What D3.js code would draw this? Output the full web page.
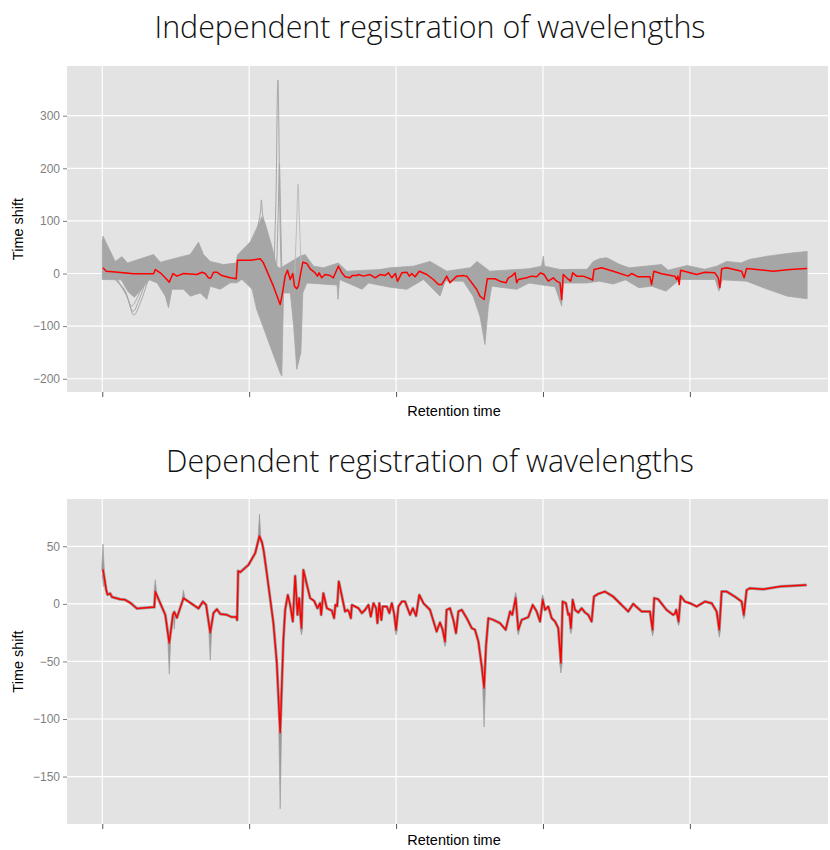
<!DOCTYPE html>
<html lang="en">
<head>
<meta charset="UTF-8">
<title>Registration of wavelengths</title>
<script src="https://cdn.jsdelivr.net/npm/d3@7"></script>
<style>
body{margin:0;background:#fff}
svg{display:block}
</style>
</head>
<body>
<script>
// x in retention-time units, ticks unlabeled in the original
const xTicks = [0, 100, 200, 300, 400];
const indepYTicks = [-200, -100, 0, 100, 200, 300];
const depYTicks = [-150, -100, -50, 0, 50];

// independent registration: mean (red) and envelope of the gray curves
const indepRed = [[0.5,10.8],[2.7,4.4],[8.8,3],[14.5,1.3],[21.3,-0.6],[34.9,-0.6],[36.1,7.6],[39.5,1.3],[42.9,-8.2],[45.6,-16.5],[48.1,0],[50.8,-5],[55.3,0],[64.4,-1.9],[67.8,2.5],[70.1,0],[72.3,-8.2],[73.8,-9],[75.7,2.5],[78.0,2.5],[81.4,-3.8],[87.1,-8.2],[91.2,-10],[92.0,25.3],[100.7,25.3],[107.5,27.9],[109.7,20.3],[116.5,-24],[121.1,-59],[122.7,-36.7],[124.5,-5],[126.1,6.3],[127.9,-11.4],[129.7,0],[130.8,-24],[132.4,-29],[133.5,-24],[134.7,-5],[136.5,21.5],[139.3,19],[141.5,8.9],[144.9,1.3],[146.5,-5],[147.6,1.3],[149.4,-8.2],[151.7,-1.9],[155.1,-3.8],[157.3,-8.2],[160.7,13.9],[163.1,1.3],[165.3,-6.3],[168.7,-8.2],[170.1,-4],[173.3,-3.8],[174.4,-1.9],[177.8,-5],[182.3,-1.9],[185.7,-8.2],[189.1,-1.9],[192.5,-3.8],[194.8,1.3],[197.1,-8.2],[199.5,0],[201.0,-15],[203.9,1.3],[207.3,2.5],[209.0,-5],[210.7,0],[212.9,-6.3],[215.8,4.4],[220.9,-1.9],[225.4,-11.4],[228.8,-21],[231.1,-21],[234.5,-5],[236.7,-17.7],[241.3,-5],[245.7,-4],[248.1,-5],[254.9,-30.4],[257.1,-43],[259.9,-49.4],[262.1,-10],[267.3,-10],[270.7,-14.6],[274.8,-17.7],[276.4,-8.2],[278.7,-5],[281.0,1.3],[282.1,-17.7],[283.2,-11.4],[288.9,-8.2],[292.3,-5],[295.7,-6.3],[298.4,1.3],[300.7,-1.9],[303.6,-14.6],[307.0,-8.2],[309.3,-14.6],[311.6,-17.7],[312.7,-49.4],[313.8,-1.9],[316.1,-8.2],[318.8,-14.6],[320.2,1.3],[322.9,-5],[327.4,-5],[332.0,-10],[333.8,-12.7],[334.7,7.6],[339.9,10.8],[347.8,4.4],[358.0,-5],[360.3,0],[364.8,-6.3],[372.8,-6.3],[373.9,-21],[375.5,4.4],[380.7,-0.6],[389.8,-5],[390.9,-11.4],[391.8,-5],[392.7,-21],[393.7,6.3],[398.8,2.5],[404.6,-1.9],[410.2,2.5],[417.0,1.3],[419.3,-8.2],[420.4,-27],[421.6,8.9],[425.0,10.8],[435.2,4.4],[436.9,-8.2],[438.6,9.5],[445.4,7.6],[456.7,4.4],[468.0,7.6],[479.8,9.5]];

const indepUpper = [[0,60],[0.5,71],[2.7,58],[8.8,23],[13.4,32],[17.2,20],[34.9,36],[39.5,21.5],[55.3,33],[59.9,36],[65.5,59.5],[68.9,36],[73.5,23],[82.5,17],[91.2,20],[92.0,35],[100.7,60],[105.0,85],[107.5,100],[108.6,108],[110.9,95],[115.4,52],[118.8,14],[121.1,10],[134.7,33],[138.1,36],[143.8,14],[150.6,11],[160.7,20],[166.5,4.4],[189.1,7.6],[195.9,10.8],[211.8,14],[223.1,23],[234.5,4.4],[250.5,11],[255.1,23],[263.8,4.4],[290.5,9],[299.1,14],[300.2,33],[301.0,14],[311.6,7.6],[330.0,8],[334.2,23],[338.3,28],[343.3,30],[352.4,17],[358.7,10.8],[380.7,17],[385.2,6.3],[398.1,15.2],[410.0,8],[418.2,14],[425.0,23],[434.7,20],[440.4,26.6],[452.9,33],[466.4,38],[479.8,42]];

const indepLower = [[0,-11],[0.5,-11.4],[12.9,-12],[17.7,-35],[21.8,-45],[25.2,-35],[32.0,-12],[37.4,-18],[42.9,-43],[45.1,-65],[47.4,-30],[55.3,-30],[59.9,-43],[66.7,-37],[71.2,-49],[73.5,-24],[80.3,-30],[87.1,-17.7],[91.6,-17.7],[95.0,-11],[102.0,-30],[105.1,-68],[114.3,-138],[121.1,-189],[122.2,-195],[123.4,-37],[128.0,-37],[130.3,-100],[132.4,-182],[135.2,-150],[136.5,-37],[139.3,-18],[159.8,-22],[160.5,-49],[161.5,-11.4],[176.9,-30],[181.2,-18],[195.9,-26],[207.3,-30],[218.6,-11.4],[229.9,-43],[233.5,-14],[245.7,-14.6],[252.4,-43],[257.1,-81],[260.5,-135],[262.8,-62],[265.1,-24],[282.1,-30],[290.5,-18],[300.0,-22],[308.2,-25],[312.7,-62],[314.0,-18],[329.5,-18],[338.4,-14.6],[347.8,-20],[356.2,-12],[365.3,-27],[374.1,-24],[383.7,-33.6],[393.1,-11.4],[417.2,-11.4],[419.7,-33.6],[422.0,-12],[438.6,-14.6],[452.9,-30],[466.4,-43],[479.8,-48]];

// single gray curves that leave the band
const indepSpikeTall = [[116.8,5],[118.3,150],[119.2,340],[119.6,368],[120.1,300],[121.0,100],[121.8,0]];
const indepSpikeMid = [[118.6,0],[119.8,120],[120.6,208],[121.3,120],[122.3,0]];
const indepSpikeLight = [[131.0,0],[132.4,100],[133.3,170],[134.2,100],[135.5,0]];
const indepFanPeak = [[105.5,85],[107.6,115],[108.3,140],[109.2,112],[111.0,90]];
const indepDipA = [[8,-10],[15,-30],[20,-62],[24,-45],[29,-12]];
const indepDipB = [[9,-10],[16,-38],[21,-72],[25,-50],[30,-12]];
const indepDipC = [[10,-10],[17,-45],[21.5,-79],[26,-55],[31,-14]];

// dependent registration: mean (red) and gray excursions [x, redValue, grayTip]
const depRed = [[0.5,30],[2.7,12],[3.6,8],[5.4,9],[6.6,6],[12.2,4],[15.6,3.5],[19.0,1],[23.6,-4],[33.8,-3],[35.4,-3],[36.1,10.7],[39.5,0.5],[42.9,-9.5],[45.6,-34],[48.1,-9.5],[49.0,-7],[50.8,-12],[55.3,5],[65.5,-4],[68.5,2],[70.7,-1],[73.5,-25],[75.7,-8],[78.0,-4.6],[80.3,-8.7],[84.8,-9.5],[88.2,-11.5],[91.2,-11.5],[91.8,-14],[92.5,28.6],[93.9,27.5],[99.5,33.8],[104.1,44],[107.0,59],[108.8,53],[109.9,46],[112.0,26.6],[116.5,-16.7],[118.8,-51],[121.1,-112],[123.3,-31],[124.5,-5.2],[126.3,7.8],[127.9,-0.9],[129.7,-15.3],[131.3,24.3],[132.9,-9.5],[134.0,5],[135.6,-21],[136.9,29.5],[139.3,16.5],[141.5,5],[144.2,2.6],[146.5,-3.8],[148.3,0.6],[149.0,-9.5],[150.5,9.2],[152.9,-3.8],[156.3,-5.8],[157.8,-12.4],[158.7,-0.9],[159.9,-2],[161.0,19.4],[161.9,14],[165.3,-6.6],[166.9,-5.2],[168.0,-7],[169.2,-12.4],[169.9,-0.9],[172.1,-2.3],[174.4,-3.8],[176.7,-8],[178.9,-5.2],[181.2,-0.9],[182.8,-11],[184.6,0.6],[186.4,-3.8],[187.3,-16.7],[188.6,0.6],[190.0,-13.9],[190.9,-2.3],[193.7,-2.3],[195.4,-8],[197.1,0.6],[198.6,-8],[200.0,-22.5],[201.6,-2.3],[203.9,2],[206.1,2],[209.5,-9.5],[211.4,-3.8],[213.6,-10.4],[215.8,7.8],[218.6,0.6],[223.1,-5.2],[227.6,-24],[229.9,-16.2],[231.7,-22.5],[233.3,-32.6],[234.4,-5.2],[236.7,-3.8],[239.0,-13.9],[240.8,-25.4],[242.4,-6.6],[244.7,-5.2],[248.1,-12.4],[251.5,-21],[253.7,-22.5],[256.0,-32.6],[258.3,-54.3],[259.9,-73],[261.2,-37],[262.8,-12.4],[266.2,-13.9],[270.7,-16.7],[274.6,-22.5],[277.6,-6.6],[279.1,-9.5],[281.4,5],[283.2,-22.5],[285.5,-13.9],[290.0,-11.5],[293.0,-0.9],[295.7,-6.6],[298.0,-15.3],[299.8,3.5],[301.4,-5.2],[303.6,-2.3],[305.9,-12.4],[308.2,-15.3],[310.4,-21],[312.2,-51.4],[313.4,2],[315.6,0.6],[317.2,-9.5],[318.0,-8.5],[319.0,-21],[320.2,3.5],[321.8,-5.2],[324.0,-7.5],[326.3,-3.8],[328.6,-7.5],[330.8,-9.5],[333.1,-15.3],[334.7,6.3],[337.6,8.7],[342.2,10.7],[347.8,6.3],[358.0,-6.6],[361.4,0],[367.1,-6.6],[372.8,-6.6],[374.6,-22.5],[375.7,5],[378.4,4],[384.1,-5.2],[388.6,-9.5],[389.8,-8.5],[390.7,-5.2],[392.3,-15.3],[393.7,6.9],[396.6,2],[400.0,0.6],[404.6,-2.3],[410.2,2],[414.8,0.6],[418.2,-6.6],[420.0,-22.5],[421.6,10.7],[425.0,10.7],[430.6,6.3],[435.2,2],[436.7,-9.5],[438.6,12],[440.8,13.6],[449.9,12.7],[461.2,15],[479.4,16.5]];

const depSpikes = [[0.5,30,52],[0.8,25,15],[36.1,10.7,21],[45.6,-34,-61],[49.0,-7,-22],[55.3,5,12],[73.5,-25,-49],[107.0,59,78],[121.1,-112,-178],[135.6,-21,-27],[200.0,-22.5,-27],[233.3,-32.6,-37],[259.9,-73,-107],[281.4,5,10],[283.2,-22.5,-27],[299.8,3.5,8],[312.2,-51.4,-60],[319.0,-21,-26],[374.6,-22.5,-28],[392.3,-15.3,-19],[420.0,-22.5,-29],[436.7,-9.5,-13]];

const W = 830, H = 850;
const left = 67, right = 828;
const BG = '#e3e3e3', GRAY = '#a6a6a6', RED = '#ff0000', AXIS = '#7f7f7f';

const svg = d3.select('body').append('svg').attr('width', W).attr('height', H)
    .style('font-family', '"Liberation Sans", Arial, sans-serif');

const x = d3.scaleLinear().domain([-24, 494]).range([left, right]);

function drawPanel(opt) {
    const y = d3.scaleLinear().domain(opt.yDomain).range([opt.bottom, opt.top]);
    const line = d3.line().x(d => x(d[0])).y(d => y(d[1]));
    const smooth = d3.line().x(d => x(d[0])).y(d => y(d[1])).curve(d3.curveCatmullRom);

    svg.append('text').attr('x', 430).attr('y', opt.titleY)
        .attr('text-anchor', 'middle')
        .attr('textLength', opt.titleLen).attr('lengthAdjust', 'spacingAndGlyphs')
        .style('font-family', '"Open Sans", "Noto Sans", sans-serif')
        .style('font-weight', 300).style('font-size', '31px').style('fill', '#111')
        .text(opt.title);

    const clipId = 'clip' + opt.id;
    svg.append('clipPath').attr('id', clipId).append('rect')
        .attr('x', left).attr('y', opt.top).attr('width', right - left).attr('height', opt.bottom - opt.top);

    svg.append('rect').attr('x', left).attr('y', opt.top)
        .attr('width', right - left).attr('height', opt.bottom - opt.top).attr('fill', BG);

    const grid = svg.append('g');
    grid.selectAll('.gy').data(opt.yTicks).enter().append('line')
        .attr('x1', left).attr('x2', right).attr('y1', d => y(d)).attr('y2', d => y(d))
        .attr('stroke', '#fff').attr('stroke-width', 1.2);
    grid.selectAll('.gx').data(xTicks).enter().append('line')
        .attr('x1', d => x(d)).attr('x2', d => x(d)).attr('y1', opt.top).attr('y2', opt.bottom)
        .attr('stroke', '#fff').attr('stroke-width', 1.2);

    const plot = svg.append('g').attr('clip-path', 'url(#' + clipId + ')');
    opt.draw(plot, line, smooth, y);

    plot.append('path').datum(opt.red).attr('d', line)
        .attr('fill', 'none').attr('stroke', RED).attr('stroke-width', 1.5)
        .attr('stroke-linejoin', 'round');

    const ya = svg.append('g').attr('transform', 'translate(' + left + ',0)')
        .call(d3.axisLeft(y).tickValues(opt.yTicks).tickSize(4).tickPadding(3));
    ya.select('.domain').remove();
    ya.selectAll('line').attr('stroke', AXIS);
    ya.selectAll('text').style('font-size', '12px').style('fill', AXIS)
        .style('font-family', '"Liberation Sans", Arial, sans-serif');

    const xa = svg.append('g').attr('transform', 'translate(0,' + opt.bottom + ')')
        .call(d3.axisBottom(x).tickValues(xTicks).tickFormat('').tickSize(5));
    xa.select('.domain').remove();
    xa.selectAll('line').attr('stroke', '#555');

    svg.append('text').attr('x', 454).attr('y', opt.bottom + opt.xLabelGap)
        .attr('text-anchor', 'middle').style('font-size', '14.5px').style('fill', '#000')
        .text('Retention time');

    svg.append('text')
        .attr('transform', 'translate(23,' + ((opt.top + opt.bottom) / 2) + ') rotate(-90)')
        .attr('text-anchor', 'middle').style('font-size', '14.5px').style('fill', '#000')
        .text('Time shift');
}

drawPanel({
    id: 1, title: 'Independent registration of wavelengths', titleY: 38, titleLen: 551,
    top: 66, bottom: 392, yDomain: [-225.2, 394.4], yTicks: indepYTicks, red: indepRed, xLabelGap: 24,
    draw: function (g, line, smooth) {
        const band = indepUpper.concat(indepLower.slice().reverse());
        g.append('path').datum(band).attr('d', d => line(d) + 'Z')
            .attr('fill', GRAY).attr('stroke', GRAY).attr('stroke-width', 0.8)
            .attr('stroke-linejoin', 'round');
        [indepDipA, indepDipB, indepDipC, indepSpikeTall, indepSpikeMid, indepFanPeak].forEach(function (s) {
            g.append('path').datum(s).attr('d', smooth)
                .attr('fill', 'none').attr('stroke', GRAY).attr('stroke-width', 1);
        });
        g.append('path').datum(indepSpikeLight).attr('d', smooth)
            .attr('fill', 'none').attr('stroke', '#bdbdbd').attr('stroke-width', 1);
    }
});

drawPanel({
    id: 2, title: 'Dependent registration of wavelengths', titleY: 472, titleLen: 528,
    top: 499, bottom: 824, yDomain: [-191.2, 91.1], yTicks: depYTicks, red: depRed, xLabelGap: 21,
    draw: function (g, line, smooth, y) {
        g.append('path').datum(depRed).attr('d', line)
            .attr('fill', 'none').attr('stroke', '#9a9a9a').attr('stroke-width', 3)
            .attr('stroke-linejoin', 'round');
        g.selectAll('.spike').data(depSpikes).enter().append('path')
            .attr('d', d => 'M' + x(d[0] - 0.9) + ',' + y(d[1]) + 'L' + x(d[0]) + ',' + y(d[2]) +
                'L' + x(d[0] + 0.9) + ',' + y(d[1]) + 'Z')
            .attr('fill', '#9a9a9a').attr('stroke', '#9a9a9a').attr('stroke-width', 0.6);
    }
});
</script>
</body>
</html>
